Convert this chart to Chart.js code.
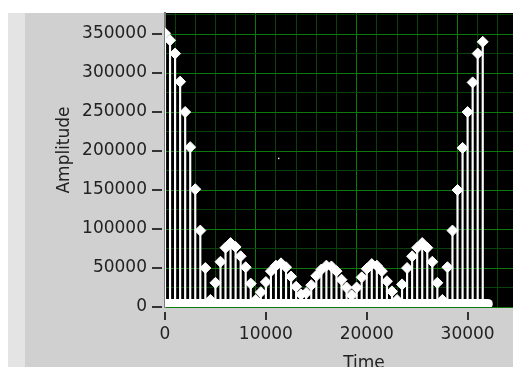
<!DOCTYPE html>
<html>
<head>
<meta charset="utf-8">
<script src="https://cdn.jsdelivr.net/npm/chart.js@4.4.1/dist/chart.umd.min.js"></script>
<style>
  html, body { margin: 0; padding: 0; background: #ffffff; }
  canvas { display: block; }
</style>
</head>
<body>
<canvas id="graph" width="513" height="367"></canvas>
<script>
// Sample times (x) and spectrum amplitudes (y) of the stem plot
const times = [
  0, 500, 1000, 1500, 2000, 2500, 3000, 3500, 4000, 4500,
  5000, 5500, 6000, 6500, 7000, 7500, 8000, 8500, 9000, 9500,
  10000, 10500, 11000, 11500, 12000, 12500, 13000, 13500, 14000, 14500,
  15000, 15500, 16000, 16500, 17000, 17500, 18000, 18500, 19000, 19500,
  20000, 20500, 21000, 21500, 22000, 22500, 23000, 23500, 24000, 24500,
  25000, 25500, 26000, 26500, 27000, 27500, 28000, 28500, 29000, 29500,
  30000, 30500, 31000, 31500
];
const amplitudes = [
  351000, 342000, 325000, 289000, 250000, 205000, 151000, 98000, 50000, 9000,
  31000, 58000, 76000, 82000, 77000, 65000, 51000, 30000, 9000, 19000,
  32000, 46000, 53000, 56000, 51000, 39000, 26000, 16000, 18000, 28000,
  40000, 48000, 53000, 52000, 46000, 35000, 25000, 15000, 25000, 38000,
  49000, 55000, 53000, 46000, 33000, 20000, 9000, 29000, 50000, 65000,
  76000, 82000, 76000, 58000, 31000, 9000, 51000, 98000, 150000, 204000,
  250000, 288000, 325000, 340000
];

// Low-level samples that run along the bottom of the graph
const floorTimes = [0, 32000];
const floorAmplitudes = [4000, 4000];

// Single isolated sample inside the plot
const strayTimes = [11270];
const strayAmplitudes = [190500];

// Labelled ticks
const xTickLabels = [0, 10000, 20000, 30000];
const yTickLabels = [0, 50000, 100000, 150000, 200000, 250000, 300000, 350000];

const toPoints = (xs, ys) => xs.map((x, i) => ({ x: x, y: ys[i] }));
const isLabelled = (list, v) => list.some(t => Math.abs(t - v) < 1);

// Grid divisions: major every labelled tick, minor lines in between
const X_MIN = 0, X_MAX = 34500, X_MINOR = 2000;
const Y_MIN = 0, Y_MAX = 377000, Y_MINOR = 25000;
const gridValues = (lo, hi, step) => {
  const out = [];
  for (let v = lo; v <= hi; v += step) out.push({ value: v });
  return out;
};

const FONT = { family: 'DejaVu Sans', size: 17 };
const TEXT = '#222222';
const GRID_MAJOR = '#0b7a0b';
const GRID_MINOR = '#0a430a';

// Panel background, black plotting area, tick dashes and axis names
const panel = {
  id: 'panel',
  beforeDraw(chart) {
    const { ctx, chartArea: a } = chart;
    ctx.save();
    ctx.fillStyle = '#ffffff';
    ctx.fillRect(0, 0, chart.width, chart.height);
    ctx.fillStyle = '#e4e4e4';
    ctx.fillRect(8, 13, chart.width - 8, chart.height - 13);
    ctx.fillStyle = '#d0d0d0';
    ctx.fillRect(25, 13, chart.width - 25, chart.height - 13);
    ctx.fillStyle = '#000000';
    ctx.fillRect(a.left, a.top, a.right - a.left, a.bottom - a.top);
    ctx.restore();
  },
  afterDraw(chart) {
    const { ctx, chartArea: a } = chart;
    const xs = chart.scales.x, ys = chart.scales.y;
    ctx.save();
    ctx.strokeStyle = '#333333';
    ctx.lineWidth = 2;
    ctx.beginPath();
    yTickLabels.forEach(v => {
      const y = Math.round(ys.getPixelForValue(v));
      ctx.moveTo(a.left - 13, y);
      ctx.lineTo(a.left - 3, y);
    });
    xTickLabels.forEach(v => {
      const x = Math.round(xs.getPixelForValue(v));
      ctx.moveTo(x, a.bottom + 5);
      ctx.lineTo(x, a.bottom + 13);
    });
    ctx.stroke();

    ctx.fillStyle = TEXT;
    ctx.font = '17px "DejaVu Sans"';
    ctx.textAlign = 'center';
    ctx.textBaseline = 'alphabetic';
    ctx.fillText('Time', 364, 368);
    ctx.translate(69, 150);
    ctx.rotate(-Math.PI / 2);
    ctx.fillText('Amplitude', 0, 0);
    ctx.restore();
  }
};

new Chart(document.getElementById('graph'), {
  data: {
    datasets: [
      {
        type: 'scatter',
        data: toPoints(times, amplitudes),
        pointStyle: 'rectRot',
        pointRadius: 5.5,
        backgroundColor: '#ffffff',
        borderColor: '#ffffff',
        borderWidth: 1,
        order: 1
      },
      {
        type: 'scatter',
        data: toPoints(strayTimes, strayAmplitudes),
        pointStyle: 'rect',
        pointRadius: 1,
        backgroundColor: '#ffffff',
        borderWidth: 0,
        order: 1
      },
      {
        type: 'line',
        data: toPoints(floorTimes, floorAmplitudes),
        borderColor: '#ffffff',
        borderWidth: 10,
        borderCapStyle: 'round',
        pointRadius: 0,
        order: 2
      },
      {
        type: 'bar',
        data: toPoints(times, amplitudes),
        backgroundColor: '#ffffff',
        barThickness: 1.5,
        order: 3
      }
    ]
  },
  options: {
    responsive: false,
    animation: false,
    events: [],
    layout: { autoPadding: false, padding: { top: 13, left: 0, right: 0, bottom: 0 } },
    plugins: { legend: { display: false }, tooltip: { enabled: false }, title: { display: false } },
    scales: {
      x: {
        type: 'linear',
        min: X_MIN,
        max: X_MAX,
        offset: false,
        border: { display: false },
        grid: {
          drawTicks: false,
          lineWidth: 1,
          color: c => (c.tick && isLabelled(xTickLabels, c.tick.value)) ? GRID_MAJOR : GRID_MINOR
        },
        ticks: {
          autoSkip: false,
          maxRotation: 0,
          padding: 17,
          color: TEXT,
          font: FONT,
          callback: v => isLabelled(xTickLabels, v) ? String(Math.round(v)) : ''
        },
        afterBuildTicks: s => { s.ticks = gridValues(X_MIN, X_MAX, X_MINOR); },
        afterFit: s => {
          s.height = 60;
          s.paddingLeft = 0; s.paddingRight = 0;
        }
      },
      y: {
        type: 'linear',
        min: Y_MIN,
        max: Y_MAX,
        border: { display: true, color: '#7d7d7d', width: 2 },
        grid: {
          drawTicks: false,
          lineWidth: 1,
          color: c => (c.tick && (Math.round(c.tick.value) % 50000 === 0)) ? GRID_MAJOR : GRID_MINOR
        },
        ticks: {
          autoSkip: false,
          padding: 18,
          color: TEXT,
          font: FONT,
          callback: v => isLabelled(yTickLabels, v) ? String(Math.round(v)) : ''
        },
        afterBuildTicks: s => { s.ticks = gridValues(Y_MIN, Y_MAX, Y_MINOR); },
        afterFit: s => {
          s.width = 165;
          s.paddingTop = 0; s.paddingBottom = 0;
        }
      }
    }
  },
  plugins: [panel]
});
</script>
</body>
</html>
